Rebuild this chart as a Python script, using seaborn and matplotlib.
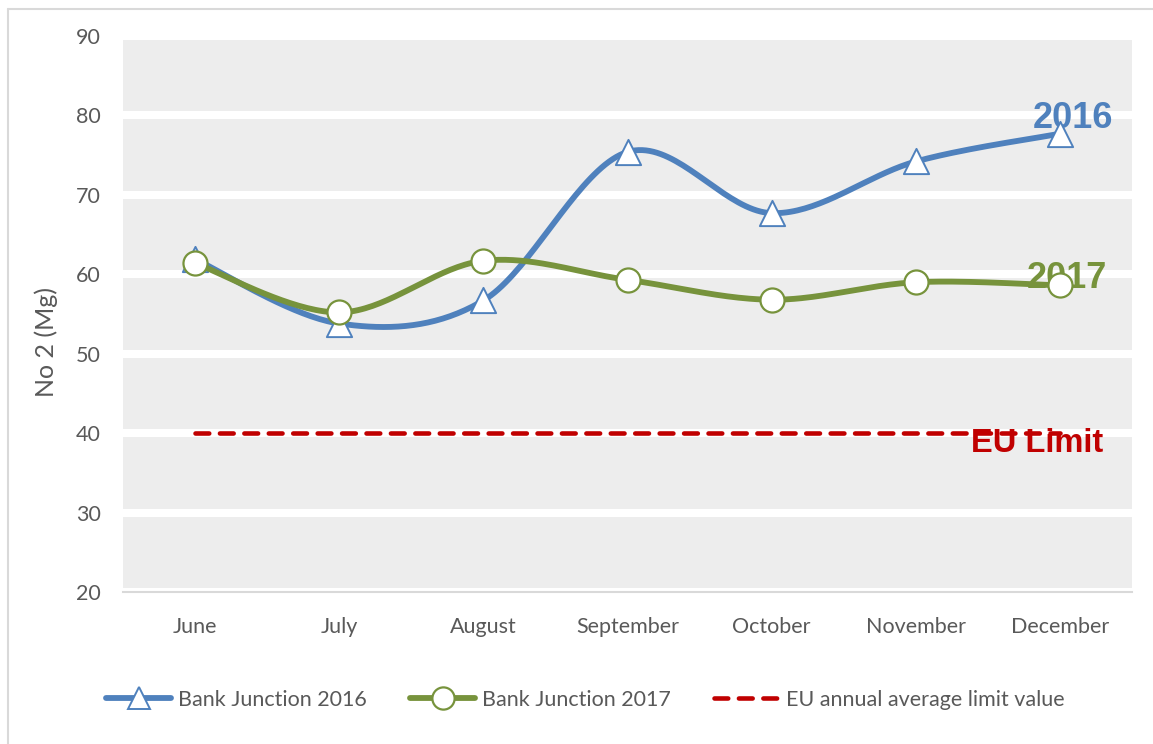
import numpy as np
import matplotlib
matplotlib.use("Agg")
import matplotlib.pyplot as plt
import seaborn as sns
from matplotlib.lines import Line2D

# values
months = ["June", "July", "August", "September", "October", "November", "December"]
bank_2016 = [61.9, 53.8, 56.7, 75.4, 67.7, 74.2, 77.7]
bank_2017 = [61.4, 55.2, 61.7, 59.3, 56.8, 59.0, 58.6]
eu_limit = [40, 40, 40, 40, 40, 40, 40]
y_ticks = [20, 30, 40, 50, 60, 70, 80, 90]

BLUE = "#4F81BD"
GREEN = "#77933C"
RED = "#C00000"
GREY_TXT = "#595959"


def smooth(values, n=40):
    # Excel-like smoothed line: cubic bezier through points (Catmull-Rom tangents)
    pts = np.column_stack([np.arange(len(values)), values]).astype(float)
    xs, ys = [], []
    for i in range(len(pts) - 1):
        p0 = pts[max(i - 1, 0)]
        p1 = pts[i]
        p2 = pts[i + 1]
        p3 = pts[min(i + 2, len(pts) - 1)]
        c1 = p1 + (p2 - p0) / 6
        c2 = p2 - (p3 - p1) / 6
        t = np.linspace(0, 1, n)[:, None]
        seg = (1 - t) ** 3 * p1 + 3 * (1 - t) ** 2 * t * c1 + 3 * (1 - t) * t ** 2 * c2 + t ** 3 * p2
        if i > 0:
            seg = seg[1:]
        xs.append(seg[:, 0])
        ys.append(seg[:, 1])
    return np.concatenate(xs), np.concatenate(ys)


sns.set_style("white", {"axes.facecolor": "#EDEDED"})
plt.rcParams["font.family"] = ["Lato", "DejaVu Sans"]

fig = plt.figure(figsize=(11.53, 7.44), dpi=100)
ax = fig.add_axes([123 / 1153, 1 - 592 / 744, 1009 / 1153, 556 / 744])

pos = np.arange(len(months))

# 2016 series
sx, sy = smooth(bank_2016)
sns.lineplot(x=sx, y=sy, ax=ax, color=BLUE, lw=4.2, sort=False, estimator=None,
             solid_capstyle="round", zorder=3)
sns.scatterplot(x=pos, y=bank_2016, ax=ax, marker="^", s=330, color="white",
                edgecolor=BLUE, linewidth=1.4, zorder=4)

# 2017 series
sx, sy = smooth(bank_2017)
sns.lineplot(x=sx, y=sy, ax=ax, color=GREEN, lw=4.2, sort=False, estimator=None,
             solid_capstyle="round", zorder=5)
sns.scatterplot(x=pos, y=bank_2017, ax=ax, marker="o", s=300, color="white",
                edgecolor=GREEN, linewidth=1.6, zorder=6)

# EU limit
sns.lineplot(x=pos, y=eu_limit, ax=ax, color=RED, lw=3.3, zorder=7)
eu_line = ax.lines[-1]
eu_line.set_linestyle((0, (3, 2.33)))
eu_line.set_dash_capstyle("round")

# labels on the chart
ax.text(6.09, 78.4, "2016", color=BLUE, fontsize=26, fontweight="bold",
        family="Liberation Sans", ha="center", va="baseline", zorder=2.5)
ax.text(6.05, 58.3, "2017", color=GREEN, fontsize=26, fontweight="bold",
        family="Liberation Sans", ha="center", va="baseline", zorder=2.5)
ax.text(5.84, 37.6, "EU Limit", color=RED, fontsize=23.5, fontweight="bold",
        family="Liberation Sans", ha="center", va="baseline", zorder=2.5)

# axes styling
ax.set_xlim(-0.5, 6.5)
ax.set_ylim(20, 90)
ax.set_xticks(pos)
ax.set_xticklabels(months)
ax.set_yticks(y_ticks)
ax.set_axisbelow(True)
ax.yaxis.grid(True, color="white", lw=5.8)
ax.xaxis.grid(False)
for side in ["top", "left", "right"]:
    ax.spines[side].set_visible(False)
ax.spines["bottom"].set_color("#D9D9D9")
ax.spines["bottom"].set_linewidth(1.5)
ax.tick_params(axis="both", length=0, colors=GREY_TXT, labelsize=15.5)
ax.tick_params(axis="x", pad=18)
ax.tick_params(axis="y", pad=16)
ax.set_xlabel("")
ax.set_ylabel("")

fig.text(46 / 1153, 1 - 342 / 744, "No 2 (Mg)", rotation=90, color=GREY_TXT,
         fontsize=18, ha="center", va="center")

# legend
handles = [
    Line2D([], [], color=BLUE, lw=4.2, marker="^", markersize=16, markerfacecolor="white",
           markeredgecolor=BLUE, markeredgewidth=1.4, solid_capstyle="round"),
    Line2D([], [], color=GREEN, lw=4.2, marker="o", markersize=16, markerfacecolor="white",
           markeredgecolor=GREEN, markeredgewidth=1.6, solid_capstyle="round"),
    Line2D([], [], color=RED, lw=3.3, linestyle=(0, (3, 2.33)), dash_capstyle="round"),
]
labels = ["Bank Junction 2016", "Bank Junction 2017", "EU annual average limit value"]
fig.legend(handles, labels, loc="center", bbox_to_anchor=(0.508, 1 - 700 / 744), ncol=3,
           frameon=False, fontsize=15.5, handlelength=3.0, handletextpad=0.35,
           columnspacing=2.0, numpoints=1, labelcolor=GREY_TXT)

# thin outer frame like the source chart
fig.add_artist(Line2D([8 / 1153, 1], [1 - 9 / 744, 1 - 9 / 744], transform=fig.transFigure,
                      color="#D9D9D9", lw=1.5))
fig.add_artist(Line2D([8 / 1153, 8 / 1153], [0, 1 - 9 / 744], transform=fig.transFigure,
                      color="#D9D9D9", lw=1.5))

fig.savefig("out.png", dpi=100, facecolor="white")
